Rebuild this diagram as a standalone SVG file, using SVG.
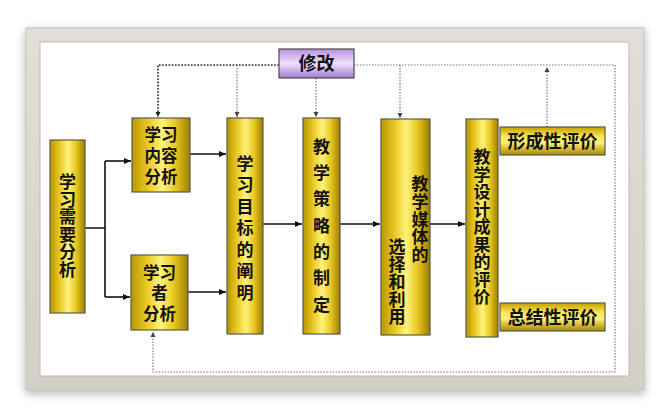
<svg xmlns="http://www.w3.org/2000/svg" width="669" height="420" viewBox="0 0 669 420">
<style>
.t{font-family:"Noto Sans CJK SC","Noto Sans CJK JP",sans-serif;font-weight:bold;font-size:17px;fill:#111;text-anchor:middle}
.s{font-family:"Liberation Sans","Noto Sans CJK SC",sans-serif;font-size:16.5px}
.v{writing-mode:vertical-rl;glyph-orientation-vertical:0}
.col{stroke:#5a5a4a;stroke-width:1.2;fill:url(#goldH)}
.bar{stroke:#5a5a4a;stroke-width:1.2;fill:url(#goldV)}
.sol{stroke:#111;stroke-width:1.6;fill:none}
.dk{stroke:#222;stroke-width:1.6;stroke-dasharray:1.6 1.6;fill:none}
.lt{stroke:#777;stroke-width:1.2;stroke-dasharray:1.5 1.5;fill:none}
</style>
<defs>
<linearGradient id="goldH" x1="0" y1="0" x2="1" y2="0">
<stop offset="0" stop-color="#b89600"/><stop offset="0.3" stop-color="#eccd2a"/><stop offset="0.52" stop-color="#fff27c"/><stop offset="0.75" stop-color="#e8c71f"/><stop offset="1" stop-color="#9e7e00"/>
</linearGradient>
<linearGradient id="goldV" x1="0" y1="0" x2="0" y2="1">
<stop offset="0" stop-color="#c4a200"/><stop offset="0.35" stop-color="#fbe65a"/><stop offset="0.55" stop-color="#fff07a"/><stop offset="1" stop-color="#a88800"/>
</linearGradient>
<linearGradient id="purp" x1="0" y1="0" x2="0" y2="1">
<stop offset="0" stop-color="#b88fe0"/><stop offset="0.5" stop-color="#f1e0ff"/><stop offset="1" stop-color="#a47ad0"/>
</linearGradient>
<linearGradient id="frame" x1="0" y1="0" x2="0" y2="1">
<stop offset="0" stop-color="#e2dfd8"/><stop offset="1" stop-color="#d2cfc7"/>
</linearGradient>
<filter id="sh" x="-10%" y="-10%" width="120%" height="125%">
<feDropShadow dx="0" dy="3" stdDeviation="5" flood-color="#000" flood-opacity="0.3"/>
</filter>
<marker id="ah" markerWidth="8" markerHeight="8" refX="7" refY="4" orient="auto" markerUnits="userSpaceOnUse">
<path d="M0,1 L7,4 L0,7 Z" fill="#111"/>
</marker>
<marker id="ahs" markerWidth="6" markerHeight="6" refX="5" refY="3" orient="auto" markerUnits="userSpaceOnUse">
<path d="M0,0.5 L5,3 L0,5.5 Z" fill="#222"/>
</marker>
<marker id="ahg" markerWidth="6" markerHeight="6" refX="5" refY="3" orient="auto" markerUnits="userSpaceOnUse">
<path d="M0,0.5 L5,3 L0,5.5 Z" fill="#444"/>
</marker>
</defs>

<g id="frame-box">
<rect x="26" y="28" width="618" height="362" fill="url(#frame)" stroke="#c2bfb8" filter="url(#sh)"/>
<rect x="40" y="42" width="589" height="334" fill="#fff" stroke="#bcb9b2"/>
</g>

<g id="connectors">
<path class="sol" d="M85,228 H105 M105,161 V297"/>
<path class="sol" d="M105,161 H131" marker-end="url(#ah)"/>
<path class="sol" d="M105,297 H130" marker-end="url(#ah)"/>
<path class="sol" d="M190,154 H226" marker-end="url(#ah)"/>
<path class="sol" d="M188,292 H226" marker-end="url(#ah)"/>
<path class="sol" d="M263,224 H302" marker-end="url(#ah)"/>
<path class="sol" d="M340,224 H380" marker-end="url(#ah)"/>
<path class="sol" d="M430,224 H465" marker-end="url(#ah)"/>
<path class="dk" d="M279,65 H158 V117" marker-end="url(#ahs)"/>
<path class="lt" d="M237,65 V117" marker-end="url(#ahg)"/>
<path class="lt" d="M316,78 V117" marker-end="url(#ahg)"/>
<path class="lt" d="M400,65 V118" marker-end="url(#ahg)"/>
<path class="lt" d="M354,65 H615 V372 H153 V332" marker-end="url(#ahg)"/>
<path class="lt" d="M547,127 V67" marker-end="url(#ahg)"/>
</g>

<g id="xiugai">
<rect x="279" y="49" width="75" height="29" fill="url(#purp)" stroke="#4a4a4a" stroke-width="1.2"/>
<text class="t" x="316.5" y="70" style="font-size:18px">修改</text>
</g>

<g id="xuqiu">
<rect class="col" x="50" y="140" width="35" height="173"/>
<text class="t v" x="67.5" y="226" style="letter-spacing:0.5px">学习需要分析</text>
</g>

<g id="neirong">
<rect class="col" x="132" y="118" width="58" height="74"/>
<text class="t s" x="161" y="140.5">学习</text>
<text class="t s" x="161" y="161.5">内容</text>
<text class="t s" x="161" y="183">分析</text>
</g>

<g id="xuexizhe">
<rect class="col" x="131" y="255" width="57" height="75"/>
<text class="t s" x="159.5" y="278.5">学习</text>
<text class="t s" x="159.5" y="299">者</text>
<text class="t s" x="159.5" y="319.5">分析</text>
</g>

<g id="mubiao">
<rect class="col" x="227" y="118" width="36" height="216"/>
<text class="t v" x="245" y="230" style="letter-spacing:4.5px">学习目标的阐明</text>
</g>

<g id="celue">
<rect class="col" x="303" y="118" width="37" height="216"/>
<text class="t v" x="321.5" y="230" style="letter-spacing:9.3px">教学策略的制定</text>
</g>

<g id="meiti">
<rect class="col" x="381" y="119" width="49" height="216"/>
<text class="t v" x="420" y="219.5" style="letter-spacing:0.75px">教学媒体的</text>
<text class="t v" x="397" y="282" style="letter-spacing:0.5px">选择和利用</text>
</g>

<g id="pingjia">
<rect class="col" x="466" y="119" width="32" height="218"/>
<text class="t v" x="482" y="227" style="letter-spacing:0.5px">教学设计成果的评价</text>
</g>

<g id="xingcheng">
<rect class="bar" x="500" y="127" width="105" height="28"/>
<text class="t" x="552.5" y="147.5" style="font-size:18px">形成性评价</text>
</g>

<g id="zongjie">
<rect class="bar" x="500" y="303" width="105" height="28"/>
<text class="t" x="552.5" y="323.5" style="font-size:18px">总结性评价</text>
</g>
</svg>
